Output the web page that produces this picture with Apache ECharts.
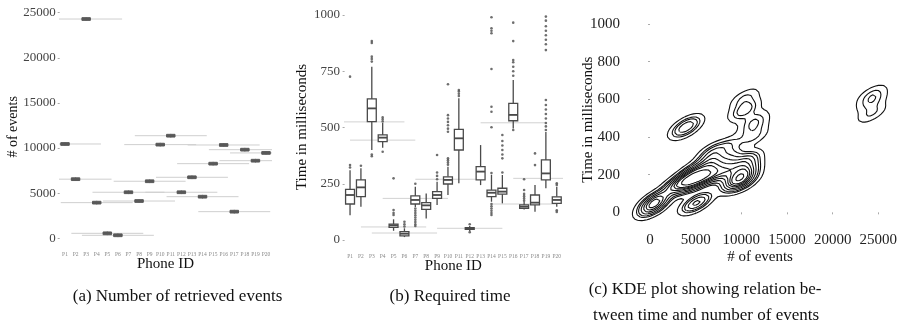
<!DOCTYPE html>
<html><head><meta charset="utf-8">
<script src="https://cdn.jsdelivr.net/npm/echarts@6/dist/echarts.min.js"></script>
<style>html,body{margin:0;padding:0;background:#fff}#c{width:903px;height:325px}</style>
</head><body><div id="c"></div>
<script>
// ---------- DATA ----------
const phones = ['P1','P2','P3','P4','P5','P6','P7','P8','P9','P10','P11','P12','P13','P14','P15','P16','P17','P18','P19','P20'];
// (a) number of retrieved events per phone: [low, q1, median, q3, high]
const eventsBox = [
  [10250,10300,10450,10600,10650],[6350,6400,6550,6700,6750],[24100,24150,24300,24450,24500],
  [3750,3800,3950,4100,4150],[350,400,550,700,750],[130,180,330,480,530],
  [4900,4950,5100,5250,5300],[3930,3980,4130,4280,4330],[6120,6170,6320,6470,6520],
  [10180,10230,10380,10530,10580],[11170,11220,11370,11520,11570],[4900,4950,5100,5250,5300],
  [6560,6610,6760,6910,6960],[4410,4460,4610,4760,4810],[8070,8120,8270,8420,8470],
  [10140,10190,10340,10490,10540],[2750,2800,2950,3100,3150],[9620,9670,9820,9970,10020],
  [8400,8450,8600,8750,8800],[9260,9310,9460,9610,9660]
];
// (b) required time in ms per phone: [low whisker, q1, median, q3, high whisker]
const timeBox = [
  [110,160,200,225,310],[148,193,234,267,319],[400,526,585,627,770],[410,437,455,467,520],
  [41,56,65,71,92],[13,18,28,37,52],[147,160,178,196,237],[96,136,154,166,207],
  [156,185,200,215,259],[200,249,267,281,326],[252,400,452,492,630],[40,47,50,55,62],
  [244,267,304,326,422],[170,193,210,222,290],[163,204,215,230,289],[496,530,556,607,711],
  [136,141,148,156,170],[126,156,166,200,244],[230,267,296,356,480],[148,163,178,192,237]
];
// (b) outliers: [phone index, ms]
const timeOutliers = [
  [0,322],[0,333],[0,726],[1,330],
  [2,793],[2,805],[2,815],[2,876],[2,884],[2,372],[2,380],
  [3,527],[3,536],[3,545],[3,392],
  [4,111],[4,120],[4,133],[4,274],
  [5,60],[5,70],[5,81],
  [6,250],[6,140],[6,130],[6,120],[6,110],[6,100],[6,90],[6,80],[6,70],[6,62],
  [8,270],[8,285],[8,300],[8,378],
  [9,335],[9,345],[9,355],[9,363],[9,481],[9,495],[9,510],[9,525],[9,540],[9,555],[9,692],
  [10,640],[10,650],[10,660],[10,667],
  [11,35],[11,70],
  [13,298],[13,160],[13,150],[13,140],[13,130],[13,120],[13,111],
  [13,501],[13,570],[13,592],[13,760],[13,919],[13,930],[13,941],[13,990],
  [14,300],[14,363],[14,380],[14,400],[14,420],[14,440],[14,467],
  [15,489],[15,730],[15,750],[15,770],[15,790],[15,800],[15,884],[15,966],
  [16,175],[16,185],[16,195],[16,205],[16,222],[16,270],
  [17,333],[17,385],
  [18,489],[18,505],[18,520],[18,540],[18,560],[18,580],[18,600],[18,622],
  [18,844],[18,870],[18,890],[18,910],[18,930],[18,950],[18,975],[18,993],
  [19,245],[19,252],[19,125],[19,132]
];
// (b) light reference lines: [phone index, ms]
const timeRefLines = [[2,525],[3,444],[4,58],[5,31],[6,185],[9,270],[11,52],[15,521],[16,160],[18,274]];
// tick labels
const eventsTicks = [0,5000,10000,15000,20000,25000];
const timeTicks = [0,250,500,750,1000];
const kdeXTicks = [0,5000,10000,15000,20000,25000];
const kdeYTicks = [0,200,400,600,800,1000];
const captions = ['(a) Number of retrieved events','(b) Required time','(c) KDE plot showing relation be-','tween time and number of events'];

// ---------- KDE of (events, time) from the per-phone values ----------
const kdeX = [-2850, 26950], kdeY = [-89, 1074];
function kdeContours(){
  const all=[];
  phones.forEach((p,i)=>timeBox[i].forEach(t=>all.push([eventsBox[i][2],t])));
  let mx=0,my=0; all.forEach(s=>{mx+=s[0];my+=s[1];}); mx/=all.length; my/=all.length;
  let sxx=0,syy=0,sxy=0;
  all.forEach(s=>{const dx=s[0]-mx,dy=s[1]-my;sxx+=dx*dx;syy+=dy*dy;sxy+=dx*dy;});
  sxx/=all.length;syy/=all.length;sxy/=all.length;
  const samples=[];
  phones.forEach((p,i)=>{ [1,2,3].forEach(k=>samples.push([eventsBox[i][2], timeBox[i][k], 1])); });
  const f=0.21, f2=f*f;
  const a=sxx*f2,b=sxy*f2,d=syy*f2;
  const det=a*d-b*b; const ia=d/det, ib=-b/det, id=a/det;
  const NX=201, NY=201;
  const xs=[],ys=[];
  for(let i=0;i<NX;i++)xs.push(kdeX[0]+(kdeX[1]-kdeX[0])*i/(NX-1));
  for(let j=0;j<NY;j++)ys.push(kdeY[0]+(kdeY[1]-kdeY[0])*j/(NY-1));
  const vals=new Float64Array(NX*NY);
  for(let j=0;j<NY;j++)for(let i=0;i<NX;i++){
    let s=0;
    for(const p of samples){const dx=xs[i]-p[0],dy=ys[j]-p[1];s+=p[2]*Math.exp(-0.5*(ia*dx*dx+2*ib*dx*dy+id*dy*dy));}
    vals[j*NX+i]=s;
  }
  const sorted=Array.from(vals).sort((x,y)=>y-x);
  const tot=sorted.reduce((x,y)=>x+y,0);
  const cum=[];let c=0;for(const v of sorted){c+=v;cum.push(c/tot);}
  const levels=[];
  const nLev=10, thresh=0.05;
  for(let k=0;k<nLev-1;k++){
    const p=thresh+(1-thresh)*k/(nLev-1);
    let idx=cum.findIndex(v=>v>=1-p); if(idx<0)idx=sorted.length-1;
    levels.push(sorted[idx]);
  }
  const out=[];
  levels.forEach(level=>{
    const pts=new Map(); const adj=new Map();
    const P=(id,fn)=>{if(!pts.has(id))pts.set(id,fn());};
    const link=(e1,e2)=>{if(!adj.has(e1))adj.set(e1,[]);if(!adj.has(e2))adj.set(e2,[]);adj.get(e1).push(e2);adj.get(e2).push(e1);};
    for(let j=0;j<NY-1;j++)for(let i=0;i<NX-1;i++){
      const v0=vals[j*NX+i],v1=vals[j*NX+i+1],v2=vals[(j+1)*NX+i+1],v3=vals[(j+1)*NX+i];
      const cse=(v0>level?1:0)|(v1>level?2:0)|(v2>level?4:0)|(v3>level?8:0);
      if(cse===0||cse===15)continue;
      const B='h'+i+'_'+j, T='h'+i+'_'+(j+1), L='v'+i+'_'+j, R='v'+(i+1)+'_'+j;
      const hp=(ii,jj)=>()=>{const A=vals[jj*NX+ii],Bv=vals[jj*NX+ii+1];const t=(level-A)/(Bv-A);return [xs[ii]+t*(xs[ii+1]-xs[ii]),ys[jj]];};
      const vp=(ii,jj)=>()=>{const A=vals[jj*NX+ii],Bv=vals[(jj+1)*NX+ii];const t=(level-A)/(Bv-A);return [xs[ii],ys[jj]+t*(ys[jj+1]-ys[jj])];};
      const need={}; need[B]=hp(i,j);need[T]=hp(i,j+1);need[L]=vp(i,j);need[R]=vp(i+1,j);
      const seg=(e1,e2)=>{P(e1,need[e1]);P(e2,need[e2]);link(e1,e2);};
      const ctr=(v0+v1+v2+v3)/4;
      switch(cse){
        case 1:case 14:seg(L,B);break;
        case 2:case 13:seg(B,R);break;
        case 3:case 12:seg(L,R);break;
        case 4:case 11:seg(R,T);break;
        case 6:case 9:seg(B,T);break;
        case 7:case 8:seg(L,T);break;
        case 5: if(ctr>level){seg(L,T);seg(B,R);}else{seg(L,B);seg(R,T);}break;
        case 10: if(ctr>level){seg(L,B);seg(R,T);}else{seg(B,R);seg(L,T);}break;
      }
    }
    const take=(start)=>{const path=[start];let cur=start;for(;;){const nb=adj.get(cur);if(!nb||!nb.length)break;const nx=nb.pop();const back=adj.get(nx);back.splice(back.indexOf(cur),1);path.push(nx);cur=nx;}return path;};
    const chains=[];
    for(const [k,v] of adj) if(v.length===1) chains.push(take(k));
    for(const [k,v] of adj) if(v.length>0) chains.push(take(k));
    chains.forEach(ch=>out.push(ch.map(id=>pts.get(id))));
  });
  return out;
}
const kdeLines = kdeContours();

// ---------- CHART ----------
const FONT='"Liberation Serif", "DejaVu Serif", serif';
const chart=echarts.init(document.getElementById('c'),null,{renderer:'canvas'});

function boxRender(bandFrac, fill, stroke, lw){
  return function(params, api){
    const idx=api.value(0);
    const bw=api.size([1,0])[0]*bandFrac, hw=bw/2;
    const p=[1,2,3,4,5].map(k=>api.coord([idx, api.value(k)]));
    const x=p[0][0];
    return {type:'group',children:[
      {type:'line',shape:{x1:x,y1:p[0][1],x2:x,y2:p[1][1]},style:{stroke,lineWidth:lw}},
      {type:'line',shape:{x1:x,y1:p[3][1],x2:x,y2:p[4][1]},style:{stroke,lineWidth:lw}},
      {type:'rect',shape:{x:x-hw,y:p[3][1],width:bw,height:Math.max(p[1][1]-p[3][1],0.5)},style:{fill,stroke,lineWidth:lw}},
      {type:'line',shape:{x1:x-hw,y1:p[2][1],x2:x+hw,y2:p[2][1]},style:{stroke,lineWidth:lw*1.4}}
    ]};
  };
}
function refRender(halfBands, color){
  return function(params, api){
    const c=api.coord([api.value(0), api.value(1)]);
    const w=api.size([1,0])[0]*halfBands;
    return {type:'line',shape:{x1:c[0]-w,y1:c[1],x2:c[0]+w,y2:c[1]},style:{stroke:color,lineWidth:1}};
  };
}
const plain=v=>String(v);
const tickLbl=(size,color)=>({fontFamily:FONT,fontSize:size,color:color});
function catAxis(gi){
  return {type:'category',gridIndex:gi,data:phones,boundaryGap:true,
    name:'Phone ID',nameLocation:'middle',nameGap:10,nameMoveOverlap:false,nameTextStyle:{fontFamily:FONT,fontSize:15,color:'#111'},
    axisLine:{show:false},axisTick:{show:false},splitLine:{show:false},
    axisLabel:Object.assign({margin:5,interval:0},tickLbl(5.5,'#888'))};
}
function valAxis(gi,min,max,ticks,name,gap,fs,lblFs,lblColor,margin){
  return {type:'value',gridIndex:gi,min,max,name,nameLocation:'middle',nameGap:gap,nameMoveOverlap:false,
    nameTextStyle:{fontFamily:FONT,fontSize:fs,color:'#111'},
    axisLine:{show:false},splitLine:{show:false},
    axisTick:{show:true,length:2,lineStyle:{color:'#aaa',width:1},customValues:ticks},
    axisLabel:Object.assign({margin:margin,customValues:ticks,formatter:plain},tickLbl(lblFs,lblColor))};
}

const eventsData=eventsBox.map((b,i)=>[i].concat(b));
const timeData=timeBox.map((b,i)=>[i].concat(b));
const eventsRef=eventsBox.map((b,i)=>[i,b[2]]);

const series=[
  {type:'custom',xAxisIndex:0,yAxisIndex:0,data:eventsRef,renderItem:refRender(3.4,'#cfcfcf'),clip:true,silent:true,encode:{x:0,y:1},z:1},
  {type:'custom',xAxisIndex:0,yAxisIndex:0,data:eventsData,renderItem:boxRender(0.8,'#595959','#595959',1),silent:true,encode:{x:0,y:[1,2,3,4,5]},z:2},
  {type:'custom',xAxisIndex:1,yAxisIndex:1,data:timeRefLines,renderItem:refRender(3,'#d2d2d2'),clip:true,silent:true,encode:{x:0,y:1},z:1},
  {type:'custom',xAxisIndex:1,yAxisIndex:1,data:timeData,renderItem:boxRender(0.82,'#ffffff','#4a4a4a',1.3),silent:true,encode:{x:0,y:[1,2,3,4,5]},z:2},
  {type:'scatter',xAxisIndex:1,yAxisIndex:1,data:timeOutliers,symbolSize:2.6,itemStyle:{color:'#4a4a4a'},silent:true,z:3}
];
kdeLines.forEach(pts=>series.push({type:'line',xAxisIndex:2,yAxisIndex:2,data:pts,showSymbol:false,symbol:'none',
  lineStyle:{color:'#111',width:1.1},silent:true,animation:false,clip:true}));

const option={
  animation:false,
  backgroundColor:'#fff',
  grid:[
    {left:59.7,top:7.3,width:211.6,height:239.1,containLabel:false,outerBoundsMode:'none'},
    {left:344.6,top:4.9,width:217.6,height:244.1,containLabel:false,outerBoundsMode:'none'},
    {left:624,top:10.1,width:272.1,height:219,containLabel:false,outerBoundsMode:'none'}
  ],
  xAxis:[
    catAxis(0),
    catAxis(1),
    valAxis(2,kdeX[0],kdeX[1],kdeXTicks,'# of events',20,15,15,'#222',3)
  ],
  yAxis:[
    valAxis(0,-900,25600,eventsTicks,'# of events',39,14,13,'#444',4),
    valAxis(1,-40,1045,timeTicks,'Time in milliseconds',35,15,13,'#444',4.5),
    valAxis(2,kdeY[0],kdeY[1],kdeYTicks,'Time in milliseconds',28,15,15,'#222',4)
  ],
  series,
  graphic:[
    {type:'text',x:177.5,y:297,style:{text:captions[0],font:'17px '+FONT,fill:'#111',textAlign:'center',textVerticalAlign:'middle',align:'center',verticalAlign:'middle'}},
    {type:'text',x:450,y:297,style:{text:captions[1],font:'17px '+FONT,fill:'#111',textAlign:'center',textVerticalAlign:'middle',align:'center',verticalAlign:'middle'}},
    {type:'text',x:705,y:290,style:{text:captions[2],font:'17px '+FONT,fill:'#111',textAlign:'center',textVerticalAlign:'middle',align:'center',verticalAlign:'middle'}},
    {type:'text',x:706,y:316,style:{text:captions[3],font:'17px '+FONT,fill:'#111',textAlign:'center',textVerticalAlign:'middle',align:'center',verticalAlign:'middle'}}
  ]
};
chart.setOption(option);
</script></body></html>
